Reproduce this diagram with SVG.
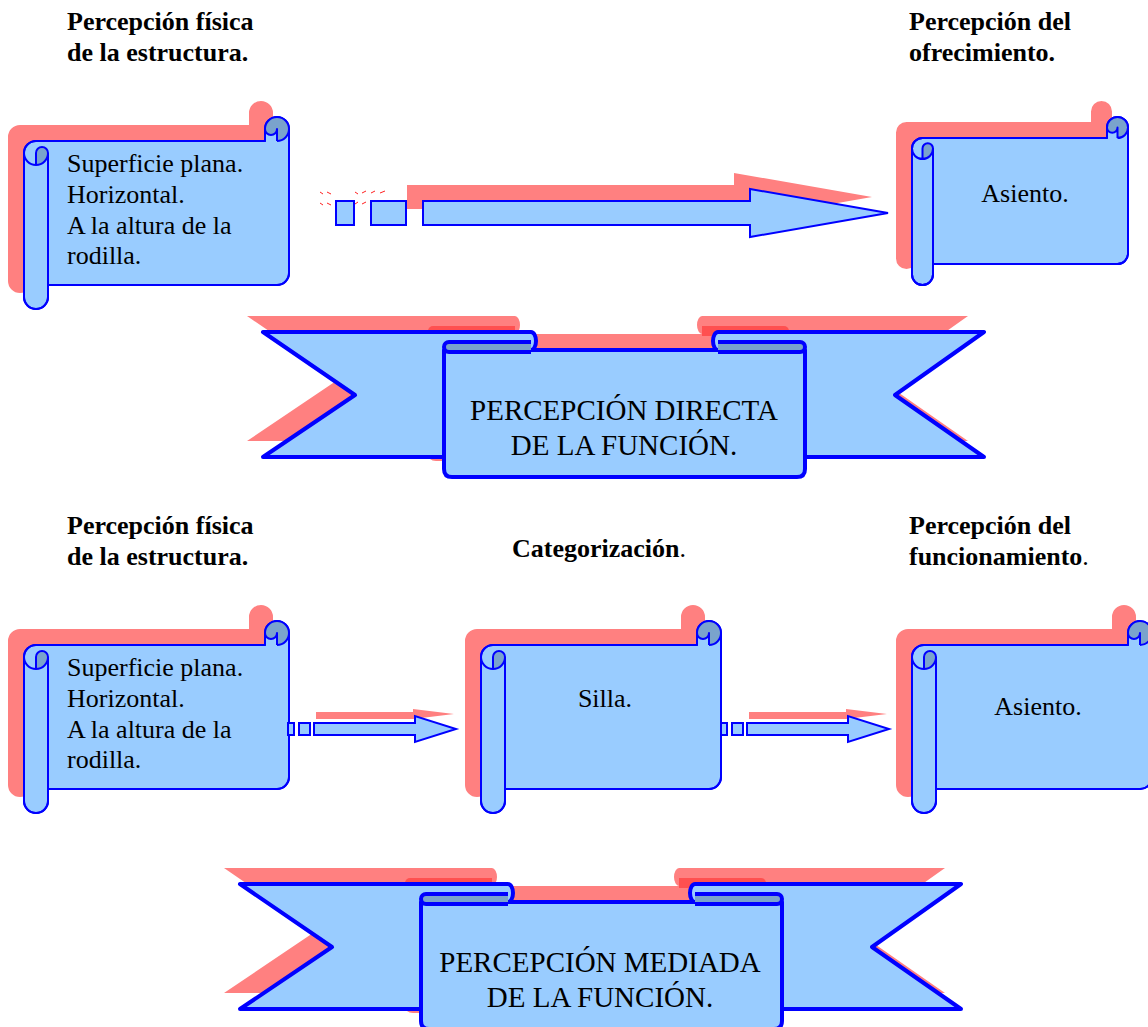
<svg xmlns="http://www.w3.org/2000/svg" width="1148" height="1027" viewBox="0 0 1148 1027">
<defs>
<style>
.shadow{fill:#FF8080;stroke:none}
.shadowdk{fill:#FF5050;stroke:none}
.body{fill:#99CCFF;stroke:#0000FF;stroke-width:2;stroke-linejoin:round}
.dark{fill:#7AA3CC;stroke:none}
.light{fill:#99CCFF;stroke:none}
.line{fill:none;stroke:#0000FF;stroke-width:2;stroke-linejoin:round}
.txt{font-family:"Liberation Serif","Times New Roman",serif;font-size:26px;fill:#000}
.hd{font-family:"Liberation Serif","Times New Roman",serif;font-size:26px;font-weight:bold;fill:#000}
.nb{font-weight:normal}
.mid{text-anchor:middle}
.ban{font-family:"Liberation Serif","Times New Roman",serif;font-size:29px;fill:#000;text-anchor:middle}
.bbody{fill:#99CCFF;stroke:#0000FF;stroke-width:4;stroke-linejoin:round}
.bdark{fill:#7AA3CC;stroke:#0000FF;stroke-width:4;stroke-linejoin:round}
.arrow{fill:#99CCFF;stroke:#0000FF;stroke-width:2}
.dash{fill:none;stroke:#FF2020;stroke-width:1}
</style>
<!-- scroll outlines -->
<path id="oL" d="M0,36 A12,12 0 0 1 12,24 L241,24 L241,12 A12,12 0 0 1 265,12 L265,156 A12,12 0 0 1 253,168 L24,168 L24,180 A12,12 0 0 1 0,180 Z"/>
<path id="oM" d="M0,36 A12,12 0 0 1 12,24 L216,24 L216,12 A12,12 0 0 1 240,12 L240,156 A12,12 0 0 1 228,168 L24,168 L24,180 A12,12 0 0 1 0,180 Z"/>
<path id="oS" d="M0,31.5 A10.5,10.5 0 0 1 10.5,21 L195,21 L195,10.5 A10.5,10.5 0 0 1 216,10.5 L216,136.5 A10.5,10.5 0 0 1 205.5,147 L21,147 L21,157.5 A10.5,10.5 0 0 1 0,157.5 Z"/>
<g id="scL">
 <use href="#oL" class="body"/>
 <path class="dark" d="M241,12 A12,12 0 0 1 265,12 A12,12 0 0 1 253,24 L241,24 Z"/>
 <path class="light" d="M241,12 A6,6 0 0 0 253,12 L253,24 L241,24 Z"/>
 <path class="dark" d="M12,48 A12,12 0 0 0 24,36 A6,6 0 0 0 12,36 Z"/>
 <use href="#oL" class="line"/>
 <path class="line" d="M253,24 A12,12 0 0 0 265,12 M253,24 L253,12 A6,6 0 0 1 241,12 M12,48 L12,36 A6,6 0 0 1 24,36 A12,12 0 0 1 0,36 M24,36 L24,168"/>
</g>
<g id="scM">
 <use href="#oM" class="body"/>
 <path class="dark" d="M216,12 A12,12 0 0 1 240,12 A12,12 0 0 1 228,24 L216,24 Z"/>
 <path class="light" d="M216,12 A6,6 0 0 0 228,12 L228,24 L216,24 Z"/>
 <path class="dark" d="M12,48 A12,12 0 0 0 24,36 A6,6 0 0 0 12,36 Z"/>
 <use href="#oM" class="line"/>
 <path class="line" d="M228,24 A12,12 0 0 0 240,12 M228,24 L228,12 A6,6 0 0 1 216,12 M12,48 L12,36 A6,6 0 0 1 24,36 A12,12 0 0 1 0,36 M24,36 L24,168"/>
</g>
<g id="scS">
 <use href="#oS" class="body"/>
 <path class="dark" d="M195,10.5 A10.5,10.5 0 0 1 216,10.5 A10.5,10.5 0 0 1 205.5,21 L195,21 Z"/>
 <path class="light" d="M195,10.5 A5.25,5.25 0 0 0 205.5,10.5 L205.5,21 L195,21 Z"/>
 <path class="dark" d="M10.5,42 A10.5,10.5 0 0 0 21,31.5 A5.25,5.25 0 0 0 10.5,31.5 Z"/>
 <use href="#oS" class="line"/>
 <path class="line" d="M205.5,21 A10.5,10.5 0 0 0 216,10.5 M205.5,21 L205.5,10.5 A5.25,5.25 0 0 1 195,10.5 M10.5,42 L10.5,31.5 A5.25,5.25 0 0 1 21,31.5 A10.5,10.5 0 0 1 0,31.5 M21,31.5 L21,147"/>
</g>
<!-- banner parts -->
<path id="bwL" d="M263,332 H531 A5,9 0 0 1 531,350 H470 V457 H263 L355,395 Z"/>
<path id="bwR" d="M984,332 H718 A5,9 0 0 0 718,350 H780 V457 H984 L895,395 Z"/>
<path id="bp" d="M444,350 V469 Q444,477 452,477 H797 Q805,477 805,469 V350 Z"/>
<path id="bcL" d="M531,342 H449 A5,5 0 0 0 449,352 H531"/>
<path id="bcR" d="M718,342 H800 A5,5 0 0 1 800,352 H718"/>
<g id="banShape">
 <g transform="translate(-16,-16)">
  <use href="#bwL" class="shadow"/>
  <use href="#bwR" class="shadow"/>
  <use href="#bp" class="shadow"/>
  <use href="#bcL" class="shadowdk"/>
  <use href="#bcR" class="shadowdk"/>
 </g>
 <use href="#bwL" class="bbody"/>
 <use href="#bwR" class="bbody"/>
 <use href="#bp" class="bbody"/>
 <use href="#bcL" class="bdark"/>
 <use href="#bcR" class="bdark"/>
</g>
<g id="arrSmall">
 <polygon class="shadow" points="316,712 413,712 413,709 454,714 413,719 316,719"/>
 <rect class="arrow" x="288" y="723" width="6" height="12"/>
 <rect class="arrow" x="299" y="723" width="11" height="12"/>
 <polygon class="arrow" points="314,723 415,723 415,716 456,729 415,742 415,735 314,735"/>
</g>
</defs>

<rect width="1148" height="1027" fill="#FFFFFF"/>

<!-- headings -->
<g id="h-top-left">
 <text class="hd" x="67" y="30">Percepción física</text>
 <text class="hd" x="67" y="61">de la estructura.</text>
</g>
<g id="h-top-right">
 <text class="hd" x="909" y="30">Percepción del</text>
 <text class="hd" x="909" y="61">ofrecimiento.</text>
</g>
<g id="h-bot-left">
 <text class="hd" x="67" y="534">Percepción física</text>
 <text class="hd" x="67" y="565">de la estructura.</text>
</g>
<g id="h-bot-mid">
 <text class="hd" x="512" y="557">Categorización<tspan class="nb">.</tspan></text>
</g>
<g id="h-bot-right">
 <text class="hd" x="909" y="534">Percepción del</text>
 <text class="hd" x="909" y="565">funcionamiento<tspan class="nb">.</tspan></text>
</g>

<!-- scrolls -->
<g id="scroll-top-left">
 <use href="#oL" class="shadow" transform="translate(8,101)"/>
 <use href="#scL" transform="translate(24,117)"/>
 <text class="txt" x="67" y="172">Superficie plana.</text>
 <text class="txt" x="67" y="203">Horizontal.</text>
 <text class="txt" x="67" y="234">A la altura de la</text>
 <text class="txt" x="67" y="264">rodilla.</text>
</g>
<g id="scroll-top-right">
 <use href="#oS" class="shadow" transform="translate(896,101)"/>
 <use href="#scS" transform="translate(912,117)"/>
 <text class="txt mid" x="1025" y="202">Asiento.</text>
</g>
<g id="scroll-bot-left">
 <use href="#oL" class="shadow" transform="translate(8,605)"/>
 <use href="#scL" transform="translate(24,621)"/>
 <text class="txt" x="67" y="676">Superficie plana.</text>
 <text class="txt" x="67" y="707">Horizontal.</text>
 <text class="txt" x="67" y="738">A la altura de la</text>
 <text class="txt" x="67" y="768">rodilla.</text>
</g>
<g id="scroll-bot-mid">
 <use href="#oM" class="shadow" transform="translate(465,605)"/>
 <use href="#scM" transform="translate(481,621)"/>
 <text class="txt mid" x="605" y="707">Silla.</text>
</g>
<g id="scroll-bot-right">
 <use href="#oM" class="shadow" transform="translate(896,605)"/>
 <use href="#scM" transform="translate(912,621)"/>
 <text class="txt mid" x="1038" y="715">Asiento.</text>
</g>

<!-- banners -->
<g id="banner-directa">
 <use href="#banShape"/>
 <text class="ban" x="624" y="420">PERCEPCIÓN DIRECTA</text>
 <text class="ban" x="624" y="455">DE LA FUNCIÓN.</text>
</g>
<g id="banner-mediada">
 <use href="#banShape" transform="translate(-23,552)"/>
 <text class="ban" x="600" y="972">PERCEPCIÓN MEDIADA</text>
 <text class="ban" x="600" y="1007">DE LA FUNCIÓN.</text>
</g>

<!-- connectors -->
<g id="connectors">
 <g id="arrow-top">
  <polygon class="shadow" points="407,185 734,185 734,173 872,197 734,221 734,209 407,209"/>
  <path class="dash" d="M320,192 l3,2 M327,192 l4,2 M355,192 l3,2 M362,193 l4,-2 M371,193 l4,-2 M380,193 l5,-2 M320,203 l3,2 M327,203 l4,2 M355,204 l3,-2 M362,204 l4,-2"/>
  <rect class="arrow" x="336" y="201" width="18" height="24"/>
  <rect class="arrow" x="371" y="201" width="35" height="24"/>
  <polygon class="arrow" points="423,201 750,201 750,189 888,213 750,237 750,225 423,225"/>
 </g>
 <g id="arrow-bot-1">
  <use href="#arrSmall"/>
 </g>
 <g id="arrow-bot-2">
  <use href="#arrSmall" transform="translate(433,0)"/>
 </g>
</g>
</svg>
